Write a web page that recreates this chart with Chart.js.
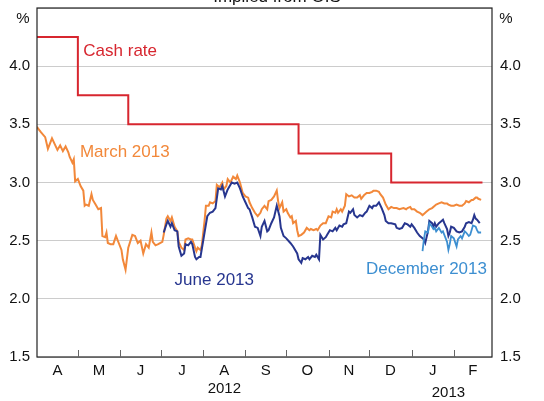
<!DOCTYPE html>
<html>
<head>
<meta charset="utf-8">
<script src="https://cdn.jsdelivr.net/npm/chart.js@4"></script>
<style>
  html, body { margin: 0; padding: 0; background: #fff; }
  canvas { display: block; }
</style>
</head>
<body>
<canvas id="grafico" width="544" height="401"></canvas>
<script>
// x values are days counted from 1 April 2012
const monthLetters = ['A', 'M', 'J', 'J', 'A', 'S', 'O', 'N', 'D', 'J', 'F'];
const monthMid = [15, 45.5, 76, 106.5, 137.5, 168, 198.5, 229, 259.5, 290.5, 320];
const monthStart = [30, 61, 91, 122, 153, 183, 214, 244, 275, 306];
const yearLabels = ['2012', '2013'];
const yearMid = [137.5, 302];
const yTicks = [1.5, 2.0, 2.5, 3.0, 3.5, 4.0, 4.5];

const cashDays = [0, 30, 67, 192, 260, 327];
const cashRates = [4.25, 3.75, 3.5, 3.25, 3.0, 3.0];

const marchDays = [
  0, 1, 3, 6, 8, 11, 13, 15, 17, 19,
  21, 23, 24, 26, 27, 28, 30, 32, 34, 35,
  36, 38, 40, 41, 43, 45, 47, 48, 50, 51,
  52, 54, 56, 58, 60, 62, 63, 65, 67, 70,
  72, 74, 76, 78, 80, 82, 84, 85, 87, 89,
  92, 93, 95, 96, 98, 99, 101, 103, 104, 106,
  108, 109, 111, 113, 114, 116, 117, 118, 120, 121,
  123, 124, 126, 127, 129, 131, 132, 134, 136, 137,
  139, 140, 142, 144, 146, 147, 149, 151, 153, 155,
  156, 158, 160, 162, 164, 165, 167, 169, 170, 172,
  174, 176, 177, 178, 180, 181, 183, 184, 186, 187,
  188, 190, 191, 192, 194, 196, 198, 200, 201, 203,
  205, 206, 208, 210, 212, 214, 216, 217, 219, 220,
  221, 223, 224, 226, 227, 229, 231, 233, 235, 237,
  238, 240, 242, 244, 246, 247, 249, 251, 252, 254,
  256, 258, 260, 262, 264, 266, 269, 271, 272, 274,
  275, 277, 279, 281, 283, 284, 286, 288, 290, 292,
  293, 295, 297, 299, 301, 302, 304, 306, 308, 310,
  312, 314, 315, 317, 319, 320, 322, 323, 324, 326
];
const marchRates = [
  3.48, 3.46, 3.43, 3.39, 3.29, 3.38, 3.33, 3.28, 3.32, 3.27,
  3.31, 3.26, 3.22, 3.17, 3.20, 3.01, 3.03, 2.97, 2.93, 2.80,
  2.81, 2.80, 2.90, 2.85, 2.81, 2.77, 2.78, 2.54, 2.53, 2.57,
  2.48, 2.47, 2.47, 2.54, 2.48, 2.42, 2.34, 2.25, 2.44, 2.55,
  2.54, 2.48, 2.50, 2.39, 2.47, 2.44, 2.57, 2.49, 2.46, 2.47,
  2.49, 2.55, 2.69, 2.71, 2.67, 2.70, 2.62, 2.58, 2.49, 2.44,
  2.42, 2.51, 2.52, 2.51, 2.51, 2.44, 2.41, 2.44, 2.42, 2.46,
  2.67, 2.80, 2.80, 2.83, 2.82, 2.84, 2.98, 2.96, 3.00, 2.94,
  2.97, 3.03, 3.00, 3.05, 3.03, 3.06, 3.00, 2.91, 2.88, 2.87,
  2.83, 2.78, 2.74, 2.71, 2.74, 2.77, 2.80, 2.77, 2.84, 2.85,
  2.88, 2.93, 2.84, 2.78, 2.83, 2.75, 2.77, 2.74, 2.70, 2.71,
  2.65, 2.67, 2.59, 2.54, 2.55, 2.57, 2.61, 2.59, 2.60, 2.59,
  2.60, 2.59, 2.63, 2.65, 2.65, 2.71, 2.70, 2.75, 2.74, 2.77,
  2.74, 2.77, 2.75, 2.80, 2.90, 2.88, 2.89, 2.87, 2.87, 2.89,
  2.86, 2.89, 2.91, 2.91, 2.92, 2.93, 2.93, 2.92, 2.90, 2.87,
  2.81, 2.77, 2.79, 2.78, 2.78, 2.77, 2.78, 2.77, 2.78, 2.79,
  2.77, 2.77, 2.75, 2.74, 2.72, 2.73, 2.75, 2.77, 2.78, 2.80,
  2.81, 2.82, 2.83, 2.82, 2.82, 2.81, 2.80, 2.80, 2.81, 2.80,
  2.80, 2.82, 2.84, 2.83, 2.85, 2.85, 2.87, 2.87, 2.86, 2.85
];

const juneDays = [
  93, 95, 96, 98, 99, 101, 103, 104, 106, 108,
  109, 111, 113, 114, 116, 117, 119, 120, 123, 125,
  127, 129, 131, 133, 135, 136, 138, 140, 142, 143,
  145, 147, 149, 151, 153, 155, 156, 158, 160, 162,
  164, 165, 167, 169, 170, 172, 174, 176, 178, 179,
  181, 183, 186, 188, 191, 192, 194, 195, 197, 199,
  200, 202, 204, 205, 207, 208, 210, 212, 213, 215,
  217, 219, 220, 222, 224, 225, 227, 229, 230, 232,
  233, 235, 237, 239, 241, 242, 244, 246, 247, 249,
  251, 253, 255, 256, 258, 260, 263, 264, 266, 268,
  270, 272, 274, 275, 277, 279, 281, 283, 284, 285,
  287, 288, 290, 291, 292, 293, 295, 297, 298, 299,
  301, 302, 303, 304, 306, 308, 310, 312, 314, 315,
  317, 319, 320, 321, 322, 323, 325
];
const juneRates = [
  2.57, 2.64, 2.67, 2.62, 2.65, 2.59, 2.58, 2.45, 2.37, 2.39,
  2.47, 2.46, 2.49, 2.47, 2.36, 2.34, 2.36, 2.36, 2.57, 2.71,
  2.74, 2.75, 2.78, 2.95, 2.94, 2.97, 2.88, 2.94, 2.98, 3.00,
  2.99, 3.00, 2.95, 2.88, 2.83, 2.78, 2.77, 2.70, 2.62, 2.61,
  2.54, 2.62, 2.67, 2.58, 2.59, 2.65, 2.70, 2.80, 2.71, 2.61,
  2.54, 2.52, 2.48, 2.45, 2.39, 2.34, 2.31, 2.35, 2.34, 2.36,
  2.34, 2.37, 2.36, 2.38, 2.34, 2.55, 2.51, 2.53, 2.55, 2.59,
  2.58, 2.61, 2.59, 2.63, 2.62, 2.64, 2.65, 2.75, 2.74, 2.77,
  2.72, 2.70, 2.72, 2.71, 2.74, 2.75, 2.80, 2.78, 2.80, 2.80,
  2.83, 2.78, 2.72, 2.67, 2.65, 2.65, 2.64, 2.61, 2.60, 2.61,
  2.65, 2.64, 2.62, 2.64, 2.61, 2.57, 2.54, 2.52, 2.51, 2.48,
  2.58, 2.67, 2.65, 2.62, 2.65, 2.62, 2.65, 2.67, 2.68, 2.65,
  2.60, 2.54, 2.57, 2.62, 2.61, 2.58, 2.57, 2.58, 2.62, 2.65,
  2.66, 2.65, 2.68, 2.72, 2.69, 2.68, 2.65
];

const decDays = [
  283, 284, 285, 287, 288, 290, 291, 292, 293, 295,
  296, 297, 298, 299, 301, 302, 303, 304, 306, 308,
  309, 311, 312, 314, 315, 317, 318, 319, 320, 322,
  323, 324, 326
];
const decRates = [
  2.41, 2.51, 2.58, 2.57, 2.65, 2.62, 2.60, 2.61, 2.58, 2.61,
  2.59, 2.57, 2.58, 2.55, 2.49, 2.42, 2.47, 2.54, 2.52, 2.45,
  2.51, 2.54, 2.52, 2.58, 2.57, 2.54, 2.55, 2.59, 2.63, 2.62,
  2.59, 2.57, 2.57
];

const cores = {
  cash: '#d7262f',
  march: '#f2883a',
  june: '#27368f',
  dec: '#3d8fd1',
  texto: '#111111'
};
const fonte = '"Liberation Sans", Arial, sans-serif';

function pontos(dias, valores) {
  return dias.map((d, i) => ({ x: d, y: valores[i] }));
}

// series names written on the chart: [text, colour, day, rate]
const rotulos = [
  ['Cash rate', cores.cash, 34, 4.09],
  ['March 2013', cores.march, 31.5, 3.22],
  ['June 2013', cores.june, 101, 2.12],
  ['December 2013', cores.dec, 241.5, 2.21]
];

const decoracao = {
  id: 'decoracao',
  afterDatasetsDraw(chart) {
    const { ctx, chartArea: a, scales } = chart;
    const x = scales.x, y = scales.y;
    ctx.save();

    // moldura
    ctx.strokeStyle = '#222';
    ctx.lineWidth = 1.2;
    ctx.strokeRect(a.left, a.top, a.right - a.left, a.bottom - a.top);

    // marcas dos meses, para dentro
    ctx.beginPath();
    monthStart.forEach(d => {
      const px = Math.round(x.getPixelForValue(d)) + 0.5;
      ctx.moveTo(px, a.bottom);
      ctx.lineTo(px, a.bottom - 7);
    });
    ctx.lineWidth = 1;
    ctx.strokeStyle = '#666';
    ctx.stroke();

    ctx.fillStyle = cores.texto;
    ctx.font = '15px ' + fonte;
    ctx.textAlign = 'center';
    ctx.textBaseline = 'middle';
    yearLabels.forEach((t, i) => {
      ctx.fillText(t, x.getPixelForValue(yearMid[i]), i === 0 ? 389 : 393);
    });

    ctx.fillText('%', a.left - 14, 19);
    ctx.fillText('%', a.right + 14, 19);

    ctx.font = '17px ' + fonte;
    ctx.textBaseline = 'alphabetic';
    ctx.fillText('Implied from OIS', 277, 2);

    ctx.textAlign = 'left';
    rotulos.forEach(([t, c, d, v]) => {
      ctx.fillStyle = c;
      ctx.fillText(t, x.getPixelForValue(d), y.getPixelForValue(v));
    });
    ctx.restore();
  }
};

const eixoY = (posicao, largura, grade) => ({
  position: posicao,
  min: 1.5,
  max: 4.5,
  afterBuildTicks: s => { s.ticks = yTicks.map(v => ({ value: v })); },
  afterFit: s => {
    s.width = largura;
    s.paddingTop = 0;
    s.paddingBottom = 0;
  },
  ticks: {
    callback: v => (v === 4.5 ? '' : v.toFixed(1)),
    color: cores.texto,
    font: { family: fonte, size: 15 },
    padding: posicao === 'left' ? 7 : 8
  },
  grid: { display: grade, color: '#cccccc', lineWidth: 1, drawTicks: false },
  border: { display: false }
});

new Chart(document.getElementById('grafico'), {
  type: 'line',
  data: {
    datasets: [
      {
        data: pontos(decDays, decRates),
        borderColor: cores.dec,
        borderWidth: 1.8,
        order: 0
      },
      {
        data: pontos(juneDays, juneRates),
        borderColor: cores.june,
        borderWidth: 2,
        order: 1
      },
      {
        data: pontos(marchDays, marchRates),
        borderColor: cores.march,
        borderWidth: 2,
        order: 2
      },
      {
        data: pontos(cashDays, cashRates),
        borderColor: cores.cash,
        borderWidth: 2,
        stepped: 'before',
        order: 3
      }
    ]
  },
  options: {
    responsive: false,
    animation: false,
    devicePixelRatio: 1,
    layout: { padding: { top: 8, left: 0, right: 0, bottom: 0 } },
    elements: {
      point: { radius: 0 },
      line: { tension: 0, fill: false }
    },
    plugins: {
      legend: { display: false },
      tooltip: { enabled: false },
      title: { display: false }
    },
    scales: {
      x: {
        type: 'linear',
        position: 'bottom',
        min: 0,
        max: 334,
        afterBuildTicks: s => { s.ticks = monthMid.map(v => ({ value: v })); },
        afterFit: s => {
          s.height = 44;
          s.paddingLeft = 0;
          s.paddingRight = 0;
        },
        ticks: {
          autoSkip: false,
          maxRotation: 0,
          callback: (v, i) => monthLetters[i],
          color: cores.texto,
          font: { family: fonte, size: 15 },
          padding: 5
        },
        grid: { display: false, drawTicks: false },
        border: { display: false }
      },
      y: eixoY('left', 37, true),
      y2: eixoY('right', 52, false)
    }
  },
  plugins: [decoracao]
});
</script>
</body>
</html>
